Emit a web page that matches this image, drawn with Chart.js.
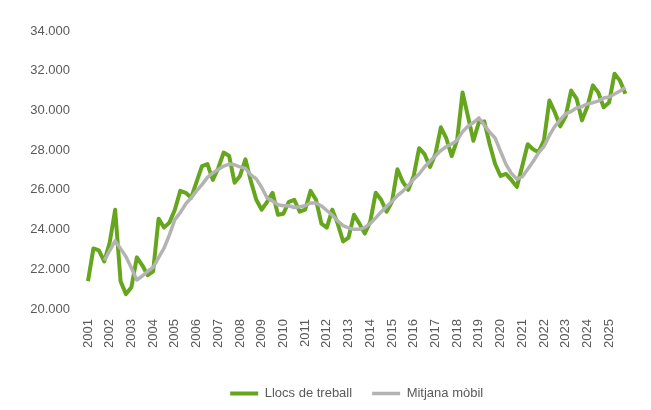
<!DOCTYPE html>
<html>
<head>
<meta charset="utf-8">
<script src="https://cdn.jsdelivr.net/npm/chart.js@4/dist/chart.umd.min.js"></script>
<style>
  html, body { margin: 0; padding: 0; background: #fff; }
  #wrap { width: 651px; height: 410px; position: relative; }
</style>
</head>
<body>
<div id="wrap"><canvas id="llocs-chart"></canvas></div>
<script>
"use strict";

/* dades */
var years = [2001, 2002, 2003, 2004, 2005, 2006, 2007, 2008, 2009, 2010, 2011, 2012, 2013,
             2014, 2015, 2016, 2017, 2018, 2019, 2020, 2021, 2022, 2023, 2024, 2025];

// llocs de treball, trimestral (T1..T4 de cada any)
var llocs = [
  21400, 23050, 22950, 22400,
  23350, 25000, 21400, 20750,
  21100, 22600, 22200, 21700,
  21900, 24550, 24100, 24350,
  25000, 25950, 25850, 25600,
  26400, 27200, 27300, 26500,
  27100, 27880, 27710, 26360,
  26700, 27540, 26440, 25500,
  25000, 25400, 25850, 24750,
  24800, 25400, 25500, 24900,
  25000, 25950, 25500, 24300,
  24100, 25000, 24300, 23400,
  23600, 24750, 24300, 23800,
  24400, 25850, 25500, 24900,
  25400, 27040, 26400, 26000,
  26700, 28100, 27800, 27150,
  27800, 29150, 28600, 27700,
  28500, 30900, 29700, 28470,
  29400, 29450, 28300, 27300,
  26700, 26800, 26500, 26150,
  27200, 28300, 28050, 27900,
  28500, 30500, 29900, 29200,
  29700, 31000, 30600, 29500,
  30200, 31260, 30900, 30160,
  30400, 31850, 31500, 30840
];

// mitjana mobil (llegida del grafic)
var mitjana = [
  null, null, null, 22450,
  22940, 23430, 23040, 22630,
  22060, 21460, 21660, 21900,
  22100, 22590, 23060, 23730,
  24500, 24850, 25290, 25600,
  25950, 26260, 26630, 26850,
  27030, 27200, 27300, 27260,
  27160, 27080, 26760, 26550,
  26120, 25590, 25440, 25250,
  25200, 25200, 25110, 25150,
  25200, 25340, 25340, 25190,
  24960, 24730, 24430, 24200,
  24080, 24010, 24010, 24110,
  24310, 24590, 24890, 25160,
  25410, 25710, 25940, 26210,
  26540, 26800, 27150, 27440,
  27710, 27980, 28180, 28310,
  28490, 28930, 29200, 29390,
  29620, 29260, 28910, 28610,
  27940, 27280, 26830, 26540,
  26660, 27040, 27430, 27860,
  28190, 28740, 29200, 29530,
  29830, 29950, 30130, 30200,
  30330, 30390, 30470, 30630,
  30680, 30830, 30980, 31150
];

var yTicks = [20000, 22000, 24000, 26000, 28000, 30000, 32000, 34000];

var labels = [];
years.forEach(function (y) {
  for (var q = 1; q <= 4; q++) labels.push(q + "T " + y);
});

function milers(v) {
  return String(v).replace(/\B(?=(\d{3})+(?!\d))/g, ".");
}

var textColor = "#595959";
var font = { family: "'Liberation Sans', Arial, sans-serif", size: 13 };

var myCanvas = document.getElementById("llocs-chart");
var myChart = new Chart(myCanvas, {
  type: "line",
  data: {
    labels: labels,
    datasets: [
      {
        label: "Llocs de treball",
        data: llocs,
        borderColor: "#66a61e",
        backgroundColor: "#66a61e",
        borderWidth: 4,
        pointRadius: 0,
        pointStyle: "line",
        tension: 0,
        borderJoinStyle: "round",
        order: 1
      },
      {
        label: "Mitjana mòbil",
        data: mitjana,
        borderColor: "#b3b3b3",
        backgroundColor: "#b3b3b3",
        borderWidth: 3.5,
        pointRadius: 0,
        pointStyle: "line",
        tension: 0,
        borderJoinStyle: "round",
        order: 0
      }
    ]
  },
  options: {
    responsive: true,
    maintainAspectRatio: false,
    animation: false,
    layout: { padding: { top: 31, right: 21, bottom: 0, left: 0 } },
    plugins: {
      tooltip: { enabled: false },
      legend: {
        position: "bottom",
        fullSize: false,
        labels: {
          sort: function (a, b) { return a.datasetIndex - b.datasetIndex; },
          usePointStyle: true,
          pointStyle: "line",
          pointStyleWidth: 28,
          padding: 20,
          color: textColor,
          font: font
        }
      }
    },
    scales: {
      x: {
        grid: { display: false, drawTicks: false },
        border: { display: false },
        ticks: {
          autoSkip: false,
          minRotation: 90,
          maxRotation: 90,
          padding: 10,
          color: textColor,
          font: font,
          callback: function (v, i) {
            return i % 4 === 0 ? String(years[i / 4]) : "";
          }
        },
        afterFit: function (scale) { scale.height = 58; }
      },
      y: {
        min: 20000,
        max: 34000,
        grid: { display: false, drawTicks: false },
        border: { display: false },
        afterBuildTicks: function (scale) {
          scale.ticks = yTicks.map(function (v) { return { value: v }; });
        },
        afterFit: function (scale) { scale.width = 88; },
        ticks: {
          padding: 18,
          color: textColor,
          font: font,
          callback: function (v) { return milers(v); }
        }
      }
    }
  }
});
</script>
</body>
</html>
